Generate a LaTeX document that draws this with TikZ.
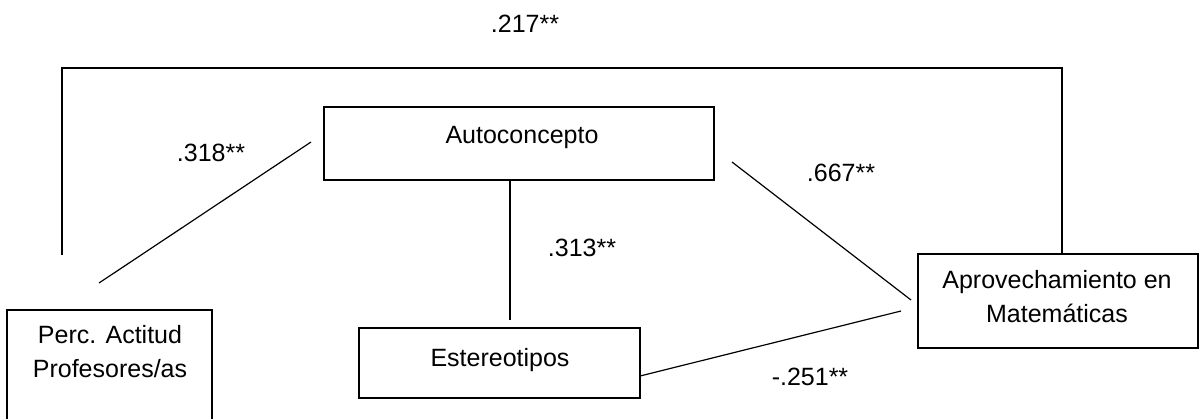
\documentclass[tikz,border=0pt]{standalone}
\usepackage{fontspec}
\setmainfont{Liberation Sans}
\usetikzlibrary{calc}
\begin{document}
\begin{tikzpicture}[x=1pt, y=-1pt,
  box/.style={draw, line width=1.2pt, inner sep=0pt, outer sep=0pt, anchor=north west},
  txt/.style={font=\fontsize{25}{34}\selectfont, inner sep=0pt, align=center},
  coef/.style={font=\fontsize{25}{30}\selectfont, inner sep=0pt, anchor=base},
  link/.style={line width=1.2pt}]

\useasboundingbox (0,0) rectangle (1199,418);
\clip (0,0) rectangle (1199,418);

% variables
\node[box, minimum width=205pt, minimum height=140pt] (perc)  at (7,310)   {};
\node[box, minimum width=390pt, minimum height=73pt]  (auto)  at (324,107) {};
\node[box, minimum width=281pt, minimum height=70pt]  (est)   at (359,328) {};
\node[box, minimum width=280pt, minimum height=94pt]  (aprov) at (918,254) {};

\node[txt] (perc-t)  at (110,351.5) {Perc. Actitud\\Profesores/as};
\node[txt, anchor=base] (auto-t) at (522,143) {Autoconcepto};
\node[txt, anchor=base] (est-t)  at (500,366) {Estereotipos};
\node[txt] (aprov-t) at (1057,297) {Aprovechamiento en\\Matemáticas};

% free ends of the paths
\coordinate (brL)  at (62,255);
\coordinate (brR)  at (1062,68);
\coordinate (p1)   at (99,283);
\coordinate (a1)   at (311,142);
\coordinate (e1)   at (510,320);
\coordinate (a2)   at (732,162);
\coordinate (m1)   at (911,300);
\coordinate (m2)   at (901,311);

% paths
\draw[link] (brL) |- (brR) -- (brR |- aprov.north);
\draw[link] (p1) -- (a1);
\draw[link] (e1 |- auto.south) -- (e1);
\draw[link] (a2) -- (m1);
\draw[link] ($(est.south east)+(0,-22)$) -- (m2);

% coefficients
\node[coef] (c217) at (525,32)  {.217**};
\node[coef] (c318) at (211,161) {.318**};
\node[coef] (c313) at (582,256) {.313**};
\node[coef] (c667) at (841,181) {.667**};
\node[coef] (c251) at (810,385) {-.251**};
\end{tikzpicture}
\end{document}
